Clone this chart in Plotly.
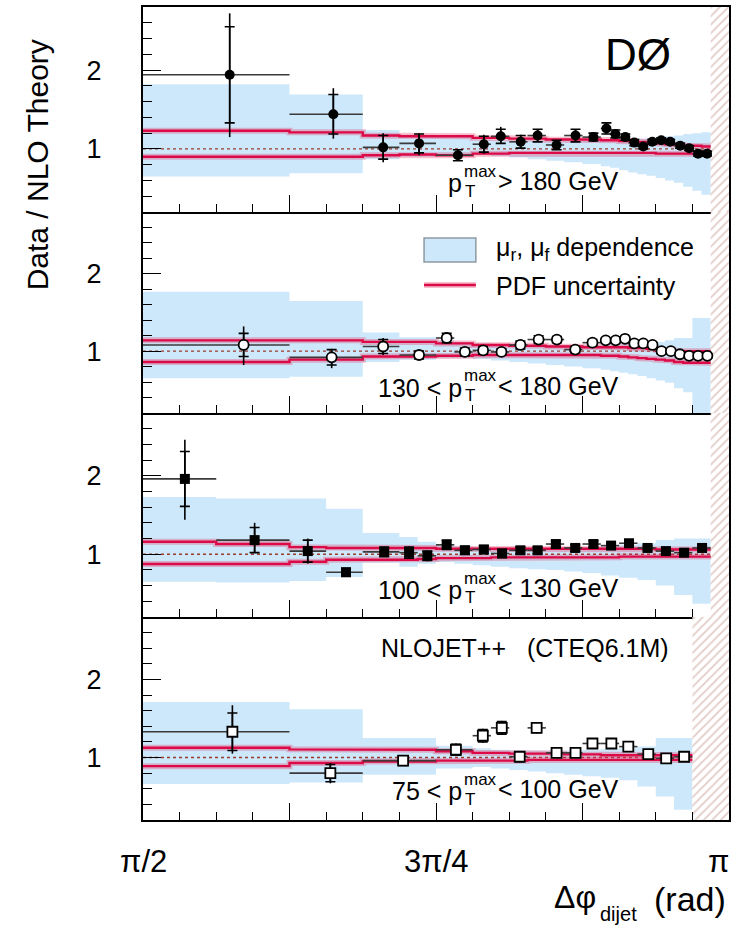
import numpy as np
import plotly.graph_objects as go
from plotly.subplots import make_subplots

PI = np.pi

# ---------------- data ----------------
# Bin edges in units of pi/128 (theory histograms and data bins)
P1_EDGES = [64, 80, 88, 92, 96, 100, 102, 104, 106, 108, 110, 112, 114,
            115, 116, 117, 118, 119, 120, 121, 122, 123, 124, 125, 126]
P2_EDGES = [64, 80, 88, 92, 96, 98, 100, 102, 104, 106, 108, 110, 112, 114,
            115, 116, 117, 118, 119, 120, 121, 122, 123, 124, 125, 126]
P3_EDGES = [64, 72, 80, 84, 88, 92, 94, 96, 98, 100, 102, 104, 106, 108,
            110, 112, 114, 116, 118, 120, 122, 124, 126]
P4_EDGES = [64, 80, 88, 96, 100, 102, 104, 106, 108, 110, 112, 114, 116,
            118, 120, 122, 124]

# Data / NLO points (x in rad)
P1_X = [1.8032, 2.0810, 2.2146, 2.3108, 2.4149, 2.4844, 2.5298, 2.5832,
        2.6286, 2.6794, 2.7302, 2.7782, 2.8130, 2.8370, 2.8637, 2.8878,
        2.9118, 2.9359, 2.9599, 2.9839, 3.0106, 3.0347, 3.0587, 3.0828]
P1_Y = [1.94, 1.44, 1.02, 1.07, 0.92, 1.06, 1.16, 1.09, 1.17, 1.05, 1.17,
        1.15, 1.26, 1.19, 1.15, 1.08, 1.03, 1.09, 1.11, 1.09, 1.04, 1.01,
        0.94, 0.94]
P1_EUP = [0.78, 0.33, 0.18, 0.13, 0.07, 0.12, 0.12, 0.09, 0.08, 0.06, 0.08,
          0.05, 0.07, 0.05, 0.04, 0.04, 0.03, 0.03, 0.03, 0.03, 0.03, 0.03,
          0.03, 0.03]
P1_EDN = [0.79, 0.31, 0.19, 0.15, 0.07, 0.12, 0.09, 0.08, 0.08, 0.06, 0.08,
          0.05, 0.07, 0.05, 0.04, 0.04, 0.03, 0.03, 0.03, 0.03, 0.03, 0.03,
          0.03, 0.03]
P1_STAT = [0.61, 0.25, 0.15, 0.12, 0.07, 0.10, 0.09, 0.08, 0.08, 0.06, 0.08,
           0.05, 0.07, 0.05, 0.04, 0.04, 0.03, 0.03, 0.03, 0.03, 0.03, 0.03,
           0.03, 0.03]

P2_X = [1.8406, 2.0765, 2.2146, 2.3108, 2.3848, 2.4336, 2.4825, 2.5317,
        2.5824, 2.6313, 2.6802, 2.7294, 2.7756, 2.8111, 2.8378, 2.8629,
        2.8878, 2.9118, 2.9367, 2.9607, 2.9858, 3.0099, 3.0347, 3.0587,
        3.0836]
P2_Y = [1.08, 0.92, 1.06, 0.95, 1.17, 0.99, 1.01, 0.99, 1.08, 1.15, 1.15,
        1.02, 1.11, 1.14, 1.14, 1.16, 1.10, 1.10, 1.08, 1.00, 1.00, 0.96,
        0.94, 0.94, 0.94]
P2_EUP = [0.24, 0.11, 0.11, 0.05, 0.06, 0.05, 0.05, 0.04, 0.05, 0.05, 0.04,
          0.04, 0.04, 0.03, 0.03, 0.03, 0.03, 0.03, 0.03, 0.03, 0.03, 0.03,
          0.03, 0.03, 0.03]
P2_EDN = [0.26, 0.14, 0.11, 0.05, 0.06, 0.05, 0.05, 0.04, 0.05, 0.05, 0.04,
          0.04, 0.04, 0.03, 0.03, 0.03, 0.03, 0.03, 0.03, 0.03, 0.03, 0.03,
          0.03, 0.03, 0.03]
P2_STAT = [0.15, 0.10, 0.09, 0.05, 0.06, 0.05, 0.05, 0.04, 0.05, 0.05, 0.04,
           0.04, 0.04, 0.03, 0.03, 0.03, 0.03, 0.03, 0.03, 0.03, 0.03, 0.03,
           0.03, 0.03, 0.03]

P3_X = [1.6830, 1.8700, 2.0124, 2.1150, 2.2173, 2.2840, 2.3329, 2.3848,
        2.4336, 2.4844, 2.5333, 2.5824, 2.6286, 2.6775, 2.7294, 2.7782,
        2.8255, 2.8736, 2.9233, 2.9725, 3.0213, 3.0694]
P3_Y = [1.96, 1.18, 1.04, 0.77, 1.03, 1.02, 0.98, 1.12, 1.05, 1.06, 1.01,
        1.05, 1.05, 1.13, 1.08, 1.13, 1.11, 1.14, 1.08, 1.04, 1.02, 1.08]
P3_EUP = [0.50, 0.22, 0.16, 0.05, 0.06, 0.08, 0.07, 0.06, 0.05, 0.05, 0.05,
          0.04, 0.04, 0.04, 0.04, 0.04, 0.03, 0.03, 0.03, 0.03, 0.03, 0.03]
P3_EDN = [0.52, 0.16, 0.16, 0.05, 0.06, 0.08, 0.07, 0.06, 0.05, 0.05, 0.05,
          0.04, 0.04, 0.04, 0.04, 0.04, 0.03, 0.03, 0.03, 0.03, 0.03, 0.03]
P3_STAT = [0.35, 0.16, 0.14, 0.05, 0.06, 0.07, 0.06, 0.06, 0.05, 0.05, 0.05,
           0.04, 0.04, 0.04, 0.04, 0.04, 0.03, 0.03, 0.03, 0.03, 0.03, 0.03]

P4_X = [1.8104, 2.0730, 2.2680, 2.4096, 2.4817, 2.5325, 2.5806, 2.6260,
        2.6794, 2.7302, 2.7756, 2.8263, 2.8717, 2.9252, 2.9732, 3.0213]
P4_Y = [1.33, 0.80, 0.96, 1.10, 1.28, 1.38, 1.01, 1.38, 1.06, 1.06, 1.18,
        1.18, 1.14, 1.045, 0.99, 1.01]
P4_EUP = [0.34, 0.13, 0.06, 0.08, 0.09, 0.09, 0.07, 0.07, 0.05, 0.05, 0.04,
          0.03, 0.03, 0.03, 0.03, 0.03]
P4_EDN = [0.28, 0.13, 0.06, 0.08, 0.09, 0.09, 0.07, 0.07, 0.05, 0.05, 0.04,
          0.03, 0.03, 0.03, 0.03, 0.03]
P4_STAT = [0.24, 0.11, 0.06, 0.07, 0.08, 0.08, 0.06, 0.06, 0.05, 0.05, 0.04,
           0.03, 0.03, 0.03, 0.03, 0.03]

# Scale (mu_r, mu_f) dependence band, per bin
P1_MU_LO = [0.65, 0.69, 0.87, 0.90, 0.92, 0.93, 0.91, 0.89, 0.87, 0.85, 0.83,
            0.81, 0.78, 0.76, 0.73, 0.70, 0.68, 0.66, 0.63, 0.60, 0.57, 0.52,
            0.47, 0.42]
P1_MU_HI = [1.82, 1.69, 1.24, 1.18, 1.16, 1.12, 1.11, 1.11, 1.11, 1.11, 1.11,
            1.11, 1.11, 1.11, 1.12, 1.12, 1.13, 1.14, 1.15, 1.16, 1.17, 1.19,
            1.20, 1.21]
P2_MU_LO = [0.65, 0.67, 0.86, 0.89, 0.91, 0.91, 0.90, 0.88, 0.86, 0.84, 0.82,
            0.80, 0.78, 0.76, 0.74, 0.72, 0.70, 0.68, 0.65, 0.62, 0.59, 0.52,
            0.47, 0.15, 0.15]
P2_MU_HI = [1.77, 1.65, 1.24, 1.18, 1.14, 1.12, 1.10, 1.09, 1.08, 1.08, 1.08,
            1.08, 1.08, 1.08, 1.09, 1.09, 1.10, 1.10, 1.11, 1.12, 1.14, 1.17,
            1.17, 1.43, 1.43]
P3_MU_LO = [0.65, 0.64, 0.66, 0.71, 0.89, 0.84, 0.88, 0.90, 0.88, 0.86, 0.84,
            0.82, 0.81, 0.80, 0.78, 0.76, 0.73, 0.70, 0.67, 0.60, 0.48, 0.37]
P3_MU_HI = [1.73, 1.71, 1.71, 1.58, 1.27, 1.22, 1.16, 1.12, 1.10, 1.09, 1.08,
            1.08, 1.08, 1.08, 1.09, 1.09, 1.10, 1.12, 1.14, 1.18, 1.20, 1.20]
P4_MU_LO = [0.66, 0.68, 0.78, 0.86, 0.88, 0.86, 0.84, 0.82, 0.80, 0.78, 0.76,
            0.74, 0.71, 0.63, 0.50, 0.33]
P4_MU_HI = [1.71, 1.62, 1.25, 1.15, 1.12, 1.10, 1.09, 1.09, 1.09, 1.09, 1.10,
            1.11, 1.12, 1.14, 1.25, 1.25]

# PDF uncertainty, per bin
P1_PDF_LO = [0.90, 0.90, 0.92, 0.93, 0.92, 0.94, 0.94, 0.95, 0.95, 0.95, 0.95,
             0.95, 0.95, 0.95, 0.95, 0.95, 0.95, 0.95, 0.94, 0.94, 0.94, 0.94,
             0.94, 0.94]
P1_PDF_HI = [1.23, 1.21, 1.17, 1.16, 1.16, 1.14, 1.14, 1.13, 1.13, 1.12, 1.12,
             1.12, 1.11, 1.11, 1.10, 1.10, 1.09, 1.08, 1.07, 1.06, 1.05, 1.04,
             1.04, 1.03]
P2_PDF_LO = [0.86, 0.89, 0.93, 0.93, 0.94, 0.94, 0.95, 0.95, 0.95, 0.95, 0.95,
             0.95, 0.95, 0.94, 0.94, 0.93, 0.92, 0.91, 0.90, 0.89, 0.88, 0.86,
             0.85, 0.85, 0.85]
P2_PDF_HI = [1.14, 1.14, 1.12, 1.12, 1.10, 1.10, 1.08, 1.08, 1.07, 1.07, 1.06,
             1.06, 1.05, 1.05, 1.05, 1.05, 1.04, 1.04, 1.03, 1.02, 1.01, 1.00,
             1.00, 1.00, 1.00]
P3_PDF_LO = [0.875, 0.875, 0.905, 0.93, 0.93, 0.93, 0.94, 0.95, 0.95, 0.95,
             0.96, 0.96, 0.96, 0.96, 0.96, 0.96, 0.96, 0.97, 0.97, 0.97, 0.97,
             0.97]
P3_PDF_HI = [1.16, 1.13, 1.09, 1.08, 1.08, 1.08, 1.08, 1.07, 1.07, 1.07, 1.07,
             1.07, 1.07, 1.07, 1.07, 1.07, 1.07, 1.07, 1.07, 1.06, 1.06, 1.06]
P4_PDF_LO = [0.89, 0.93, 0.95, 0.96, 0.96, 0.96, 0.96, 0.97, 0.97, 0.97, 0.97,
             0.97, 0.97, 0.97, 0.97, 0.97]
P4_PDF_HI = [1.125, 1.105, 1.10, 1.08, 1.06, 1.06, 1.05, 1.05, 1.05, 1.04,
             1.04, 1.03, 1.03, 1.03, 1.03, 1.03]

# pT ranges shown in each panel
PT_LEFT = ["", "130 < p", "100 < p", "75 < p"]
PT_RIGHT = ["> 180 GeV", "< 180 GeV", "< 130 GeV", "< 100 GeV"]

# x-axis labels
X_TICK_VALS = [PI / 2, 3 * PI / 4, PI]
X_TICK_TEXT = ["π/2", "3π/4", "π"]

# ---------------- styles ----------------
FONT = "Liberation Sans, Arial, Helvetica, sans-serif"
BLUE = "#cde8fa"
RED = "#dc0a46"
RED_HALO = "rgba(230, 40, 90, 0.30)"
HATCH = "#c49a92"
MARKERS = [
    dict(symbol="circle", size=10, color="black", line=dict(width=0)),
    dict(symbol="circle", size=10, color="white", line=dict(width=1.8, color="black")),
    dict(symbol="square", size=10, color="black", line=dict(width=0)),
    dict(symbol="square", size=10, color="white", line=dict(width=1.8, color="black")),
]

panels = [
    (P1_EDGES, P1_X, P1_Y, P1_EUP, P1_EDN, P1_STAT, P1_MU_LO, P1_MU_HI, P1_PDF_LO, P1_PDF_HI),
    (P2_EDGES, P2_X, P2_Y, P2_EUP, P2_EDN, P2_STAT, P2_MU_LO, P2_MU_HI, P2_PDF_LO, P2_PDF_HI),
    (P3_EDGES, P3_X, P3_Y, P3_EUP, P3_EDN, P3_STAT, P3_MU_LO, P3_MU_HI, P3_PDF_LO, P3_PDF_HI),
    (P4_EDGES, P4_X, P4_Y, P4_EUP, P4_EDN, P4_STAT, P4_MU_LO, P4_MU_HI, P4_PDF_LO, P4_PDF_HI),
]

W, H = 733, 929
ML, MR, MT, MB = 143, 2, 7, 109
PW, PH = W - ML - MR, H - MT - MB
# panel borders (pixels from top)
BORDERS = [7, 212, 413, 617, 820]


def xp(px):
    return (px - ML) / PW


def yp(py):
    return (H - MB - py) / PH


fig = make_subplots(rows=4, cols=1, shared_xaxes=True, vertical_spacing=0)

Y0, Y1 = 0.2, 2.8


def steps(edges, vals):
    xs, ys = [], []
    for i, v in enumerate(vals):
        xs += [edges[i], edges[i + 1]]
        ys += [v, v]
    return xs, ys


for r, (edges_u, x, y, eup, edn, stat, mlo, mhi, plo, phi) in enumerate(panels, start=1):
    edges = [e * PI / 128 for e in edges_u]
    hatch0 = edges[-1]

    # scale-dependence band
    ux, uy = steps(edges, mhi)
    lx, ly = steps(edges, mlo)
    fig.add_trace(go.Scatter(x=ux + lx[::-1], y=uy + ly[::-1], fill="toself",
                             fillcolor=BLUE, line=dict(width=0), mode="lines",
                             hoverinfo="skip", showlegend=False), row=r, col=1)

    # excluded region near pi
    fig.add_trace(go.Scatter(x=[hatch0, PI, PI, hatch0, hatch0],
                             y=[Y0, Y0, Y1, Y1, Y0], fill="toself",
                             fillcolor="white", mode="lines", line=dict(width=0),
                             fillpattern=dict(shape="/", fgcolor=HATCH, bgcolor="white",
                                              size=6, solidity=0.3),
                             hoverinfo="skip", showlegend=False), row=r, col=1)

    # unity reference
    fig.add_trace(go.Scatter(x=[PI / 2, hatch0], y=[1, 1], mode="lines",
                             line=dict(color="#9a3b2c", width=1.4, dash="dot"),
                             hoverinfo="skip", showlegend=False), row=r, col=1)

    # PDF uncertainty lines
    for vals in (phi, plo):
        sx, sy = steps(edges, vals)
        fig.add_trace(go.Scatter(x=sx, y=sy, mode="lines",
                                 line=dict(color=RED_HALO, width=6),
                                 hoverinfo="skip", showlegend=False), row=r, col=1)
        fig.add_trace(go.Scatter(x=sx, y=sy, mode="lines",
                                 line=dict(color=RED, width=2.4),
                                 hoverinfo="skip", showlegend=False), row=r, col=1)

    # data: total uncertainty and bin width
    xlo = [xi - edges[i] for i, xi in enumerate(x)]
    xhi = [edges[i + 1] - xi for i, xi in enumerate(x)]
    fig.add_trace(go.Scatter(
        x=x, y=y, mode="markers", marker=dict(size=2, color="black"),
        error_y=dict(type="data", symmetric=False, array=eup, arrayminus=edn,
                     width=0, thickness=1.6, color="black"),
        error_x=dict(type="data", symmetric=False, array=xhi, arrayminus=xlo,
                     width=0, thickness=1.6, color="#3a3a3a"),
        hoverinfo="skip", showlegend=False), row=r, col=1)
    # data: statistical ticks and markers
    fig.add_trace(go.Scatter(
        x=x, y=y, mode="markers", marker=MARKERS[r - 1],
        error_y=dict(type="data", array=stat, width=5, thickness=1.6, color="black"),
        hoverinfo="skip", showlegend=False), row=r, col=1)

# ---------------- axes ----------------
major_x = [PI / 2, 5 * PI / 8, 3 * PI / 4, 7 * PI / 8, PI]
minor_x = [k * PI / 32 for k in range(16, 33)]
minor_y = [round(0.2 * k, 1) for k in range(1, 15)]
for r in range(1, 5):
    fig.update_xaxes(row=r, col=1, range=[PI / 2, PI], showgrid=False, zeroline=False,
                     showline=True, linecolor="black", linewidth=2, mirror=(r == 1),
                     ticks="inside", ticklen=17, tickwidth=1.4, tickcolor="black",
                     tickmode="array", tickvals=major_x, showticklabels=False,
                     minor=dict(tickmode="array", tickvals=minor_x, ticks="inside",
                                ticklen=8, tickwidth=1.3, tickcolor="black"))
    top = BORDERS[r - 1]
    bot = BORDERS[r]
    fig.update_yaxes(row=r, col=1, range=[Y0, Y1], domain=[yp(bot), yp(top)],
                     showgrid=False, zeroline=False, showline=True,
                     linecolor="black", linewidth=2, mirror=True,
                     ticks="inside", ticklen=18, tickwidth=1.4, tickcolor="black",
                     tickmode="array", tickvals=[1, 2], ticktext=["1", "2"],
                     ticklabelstandoff=34,
                     tickfont=dict(family=FONT, size=27, color="black"),
                     minor=dict(tickmode="array", tickvals=minor_y, ticks="inside",
                                ticklen=9, tickwidth=1.3, tickcolor="black"))

# ---------------- text ----------------
ann = []


def txt(s, px, py, size=25, xanchor="left", yanchor="middle", angle=0):
    ann.append(dict(text=s, x=xp(px), y=yp(py), xref="paper", yref="paper",
                    xanchor=xanchor, yanchor=yanchor, showarrow=False,
                    textangle=angle, font=dict(family=FONT, size=size, color="black")))


# x tick labels on the bottom axis
for v, s in zip(X_TICK_VALS, X_TICK_TEXT):
    at_end = v >= PI
    ann.append(dict(text=s, x=v, xref="x4", y=yp(861), yref="paper",
                    xanchor="right" if at_end else "center", yanchor="middle",
                    xshift=2 if at_end else 0, showarrow=False,
                    font=dict(family=FONT, size=31, color="black")))

# pT range labels with stacked sub/superscript
PT_Y = [181, 386, 588, 789]
for i in range(4):
    py = PT_Y[i]
    if PT_LEFT[i]:
        txt(PT_LEFT[i], 465, py + 2, xanchor="right")
    else:
        txt("p", 447, py + 2)
    txt("max", 463, py - 10, size=17)
    txt("T", 464, py + 10, size=17)
    txt(PT_RIGHT[i], 497, py)

txt("DØ", 640, 55, size=44, xanchor="center")
txt("NLOJET++&nbsp;&nbsp; (CTEQ6.1M)", 673, 648, xanchor="right")
txt("Data / NLO Theory", 37, 165, size=30, xanchor="center", angle=-90)

# x-axis title
txt("Δφ", 553, 897, size=32)
txt("dijet", 600, 914, size=20)
txt("(rad)", 730, 899, size=34, xanchor="right")

# legend (panel 2)
txt("μ<sub>r</sub>, μ<sub>f</sub> dependence", 495, 249)
txt("PDF uncertainty", 495, 286)

shapes = [
    dict(type="rect", xref="paper", yref="paper", x0=xp(425), x1=xp(477),
         y0=yp(262), y1=yp(238), fillcolor=BLUE, line=dict(color="#8d9aa2", width=1.5)),
    dict(type="line", xref="paper", yref="paper", x0=xp(425), x1=xp(477),
         y0=yp(285), y1=yp(285), line=dict(color=RED_HALO, width=6)),
    dict(type="line", xref="paper", yref="paper", x0=xp(425), x1=xp(477),
         y0=yp(285), y1=yp(285), line=dict(color=RED, width=2.6)),
]

fig.update_layout(width=W, height=H, margin=dict(l=ML, r=MR, t=MT, b=MB),
                  paper_bgcolor="white", plot_bgcolor="white",
                  annotations=ann, shapes=shapes, showlegend=False,
                  font=dict(family=FONT, color="black"))

fig.write_html("out.html")
